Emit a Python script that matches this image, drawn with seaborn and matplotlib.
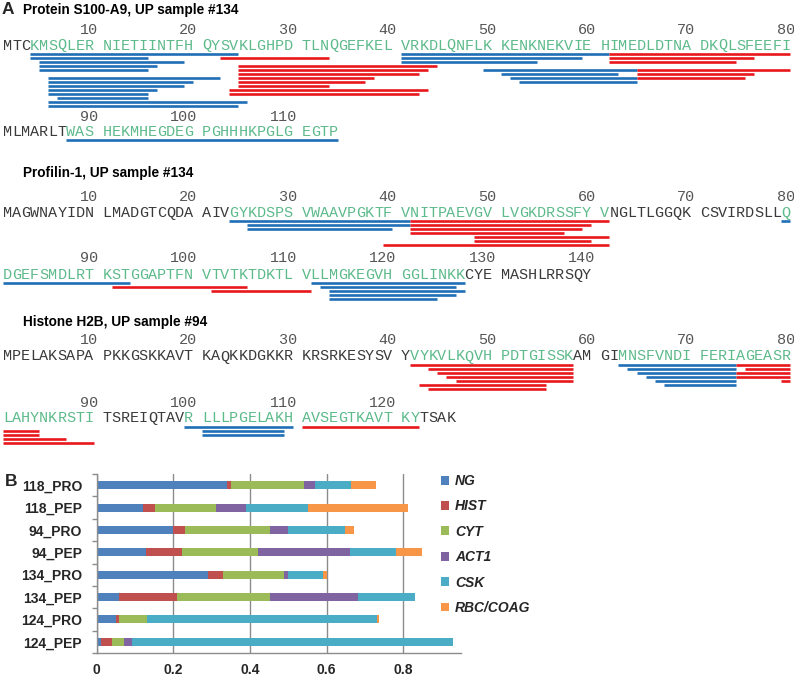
import numpy as np
import pandas as pd
import matplotlib
matplotlib.use("Agg")
import matplotlib.pyplot as plt
import seaborn as sns
from matplotlib.patches import Patch

sns.set_theme(style="white")
plt.rcParams["font.family"] = ["Liberation Sans", "DejaVu Sans"]

# ------------------------------------------------------------------ Panel A data
s100_title = "Protein S100-A9, UP sample #134"
s100_seq = ("MTCKMSQLERNIETIINTFHQYSVKLGHPDTLNQGEFKELVRKDLQNFLKKENKNEKVIE"
            "HIMEDLDTNADKQLSFEEFIMLMARLTWASHEKMHEGDEGPGHHHKPGLGEGTP")
s100_green = [(4, 80), (88, 114)]
# (line index under the row, first residue, last residue)
s100_blue = [(0, 4, 24), (0, 41, 61), (1, 4, 15), (1, 41, 59), (2, 5, 19), (2, 41, 54),
             (3, 5, 16), (4, 5, 15), (4, 50, 64), (5, 51, 62), (6, 6, 22), (6, 52, 64),
             (7, 6, 20), (7, 53, 64), (8, 6, 19), (9, 6, 16), (10, 6, 15), (11, 7, 15),
             (12, 6, 25), (13, 6, 24), (0, 88, 114)]
s100_red = [(1, 23, 33), (0, 62, 80), (1, 62, 76), (2, 62, 74), (3, 25, 44), (4, 25, 43),
            (4, 65, 80), (5, 25, 42), (5, 65, 76), (6, 25, 38), (6, 65, 75), (7, 25, 37),
            (8, 25, 33), (9, 24, 43), (10, 24, 42)]

prof_title = "Profilin-1, UP sample #134"
prof_seq = ("MAGWNAYIDNLMADGTCQDAAIVGYKDSPSVWAAVPGKTFVNITPAEVGVLVGKDRSSFY"
            "VNGLTLGGQKCSVIRDSLLQDGEFSMDLRTKSTGGAPTFNVTVTKTDKTLVLLMGKEGVH"
            "GGLINKKCYEMASHLRRSQY")
prof_green = [(24, 61), (80, 127)]
prof_blue = [(0, 24, 41), (1, 26, 41), (2, 26, 40), (0, 80, 80), (0, 81, 93),
             (0, 112, 127), (1, 113, 126), (2, 114, 127), (3, 114, 126), (4, 114, 124)]
prof_red = [(0, 42, 61), (1, 42, 60), (2, 42, 59), (3, 42, 57), (4, 49, 61), (5, 49, 60),
            (6, 40, 61), (1, 92, 105), (2, 102, 111)]

h2b_title = "Histone H2B, UP sample #94"
h2b_seq = ("MPELAKSAPAPKKGSKKAVTKAQKKDGKKRKRSRKESYSVYVYKVLKQVHPDTGISSKAM"
           "GIMNSFVNDIFERIAGEASRLAHYNKRSTITSREIQTAVRLLLPGELAKHAVSEGTKAVT"
           "KYTSAK")
h2b_green = [(42, 58), (63, 90), (100, 122)]
h2b_blue = [(0, 63, 74), (1, 64, 74), (2, 65, 74), (3, 66, 74), (4, 67, 74), (5, 68, 74),
            (0, 100, 110), (1, 101, 109), (2, 101, 109)]
h2b_red = [(0, 42, 58), (1, 44, 58), (2, 45, 58), (3, 46, 58), (4, 47, 58), (5, 43, 55),
           (6, 44, 55), (0, 75, 80), (1, 76, 80), (2, 75, 80), (3, 75, 80), (4, 80, 80),
           (0, 111, 122), (1, 81, 84), (2, 81, 84), (3, 81, 87), (4, 81, 90)]

# ------------------------------------------------------------------ Panel B data
samples = ["118_PRO", "118_PEP", "94_PRO", "94_PEP", "134_PRO", "134_PEP", "124_PRO", "124_PEP"]
ng = [0.339, 0.120, 0.198, 0.129, 0.291, 0.059, 0.050, 0.011]
hist = [0.011, 0.032, 0.033, 0.093, 0.038, 0.150, 0.009, 0.029]
cyt = [0.191, 0.159, 0.221, 0.198, 0.160, 0.243, 0.071, 0.031]
act1 = [0.029, 0.079, 0.047, 0.242, 0.010, 0.229, 0.001, 0.020]
csk = [0.093, 0.161, 0.150, 0.119, 0.092, 0.149, 0.601, 0.838]
rbc_coag = [0.066, 0.261, 0.022, 0.068, 0.009, 0.000, 0.004, 0.000]
categories = ["NG", "HIST", "CYT", "ACT1", "CSK", "RBC/COAG"]
cat_colors = ["#4F81BD", "#C0504D", "#9BBB59", "#8064A2", "#4BACC6", "#F79646"]
x_ticks = [0, 0.2, 0.4, 0.6, 0.8]
x_ticklabels = ["0", "0.2", "0.4", "0.6", "0.8"]

# ------------------------------------------------------------------ figure
W, H = 794, 678
fig = plt.figure(figsize=(W / 100, H / 100), dpi=100)
axA = fig.add_axes([0, 0, 1, 1])
axA.set_xlim(0, W)
axA.set_ylim(H, 0)
axA.axis("off")

X0, CW = 3.0, 9.05
MONO = "Liberation Mono"
MONO_SIZE = 10.86
SEQ_COLOR = "#3a3a3a"
NUM_COLOR = "#555555"
GREEN = "#5dba8b"
BLUE = "#1f6fb6"
RED = "#e8171c"
LINE_DY = 4.0
LINE_W = 1.9


def col_of(i):
    r0 = ((i - 1) // 80) * 80 + 1
    k = i - r0
    return k + k // 10


def draw_section(title, seq, green, blue, red, title_y, rows):
    axA.text(23, title_y, title, fontsize=9.8, fontweight="bold", color="black",
             ha="left", va="center")
    n = len(seq)
    gset = set()
    for a, b in green:
        gset.update(range(a, b + 1))
    for ridx, (num_y, seq_y, line_y) in enumerate(rows):
        r0 = ridx * 80 + 1
        r1 = min(n, r0 + 79)
        for i in range(r0, r1 + 1):
            c = col_of(i)
            axA.text(X0 + CW * (c + 0.5), seq_y, seq[i - 1], fontsize=MONO_SIZE,
                     family=MONO, color=GREEN if i in gset else SEQ_COLOR,
                     ha="center", va="center")
            if i % 10 == 0:
                axA.text(X0 + CW * (c + 1) + 4.5, num_y, str(i), fontsize=MONO_SIZE,
                         family=MONO, color=NUM_COLOR, ha="right", va="center")
        for segs, colr in ((blue, BLUE), (red, RED)):
            for li, a, b in segs:
                if r0 <= a <= r1:
                    y = line_y + li * LINE_DY
                    axA.hlines(y, X0 + CW * col_of(a), X0 + CW * (col_of(b) + 1),
                               color=colr, lw=LINE_W)


axA.text(2, 10, "A", fontsize=12.5, fontweight="bold", ha="left", va="center")
draw_section(s100_title, s100_seq, s100_green, s100_blue, s100_red, 10,
             [(30, 45.5, 54), (117, 132.5, 139.5)])
draw_section(prof_title, prof_seq, prof_green, prof_blue, prof_red, 173,
             [(197, 213, 220.7), (258, 275, 283)])
draw_section(h2b_title, h2b_seq, h2b_green, h2b_blue, h2b_red, 322,
             [(340, 356.5, 365), (403, 418, 427)])

# ------------------------------------------------------------------ Panel B
left_px, right_px, top_px, bot_px = 96.7, 460.8, 474, 653
axB = fig.add_axes([left_px / W, 1 - bot_px / H, (right_px - left_px) / W, (bot_px - top_px) / H])
df = pd.DataFrame({"sample": samples, "NG": ng, "HIST": hist, "CYT": cyt,
                   "ACT1": act1, "CSK": csk, "RBC/COAG": rbc_coag})
cum = df[categories].cumsum(axis=1)
for cat, colr in reversed(list(zip(categories, cat_colors))):
    sns.barplot(x=cum[cat].values, y=df["sample"], order=samples, orient="h", color=colr,
                saturation=1, width=0.36, edgecolor="none", linewidth=0, ax=axB)

axB.set_xlim(0, 0.95)
axB.set_ylim(7.5, -0.5)
axB.set_xlabel("")
axB.set_ylabel("")
axB.set_xticks(x_ticks)
axB.set_xticklabels(x_ticklabels)
axB.set_yticks(np.arange(-0.5, len(samples), 1.0), minor=True)
axB.xaxis.grid(True, color="#8c8c8c", lw=1)
axB.yaxis.grid(False)
axB.set_axisbelow(True)
for s in ("top", "right"):
    axB.spines[s].set_visible(False)
for s in ("left", "bottom"):
    axB.spines[s].set_color("#8c8c8c")
    axB.spines[s].set_linewidth(1)
axB.tick_params(axis="y", which="major", length=0, pad=10.5, labelsize=10)
axB.tick_params(axis="y", which="minor", length=3.5, color="#8c8c8c", width=1, left=True)
axB.tick_params(axis="x", which="major", length=0, pad=7, labelsize=10)
for lab in axB.get_xticklabels() + axB.get_yticklabels():
    lab.set_fontweight("bold")
axB.patch.set_alpha(0)

fig.text(5 / W, 1 - 482 / H, "B", fontsize=12.5, fontweight="bold", ha="left", va="center")

handles = [Patch(facecolor=c, edgecolor="none", label=l) for l, c in zip(categories, cat_colors)]
fig.legend(handles=handles, loc="upper left", bbox_to_anchor=(441 / W, 1 - 474 / H),
           frameon=False, borderpad=0, borderaxespad=0, handlelength=0.6, handleheight=0.6,
           handletextpad=0.4, labelspacing=0.82,
           prop={"size": 10, "weight": "bold", "style": "italic"})

fig.savefig("out.png", dpi=100)
